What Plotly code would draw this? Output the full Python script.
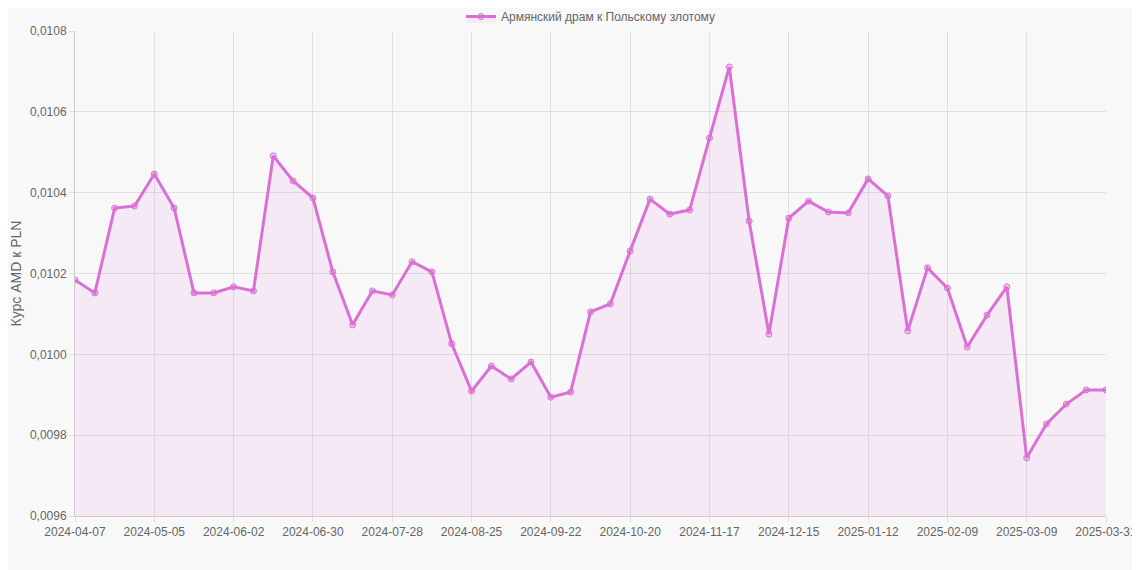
import plotly.graph_objects as go
import pandas as pd

dates = [d.strftime("%Y-%m-%d") for d in pd.date_range("2024-04-07", periods=52, freq="7D")] + ["2025-03-31"]
values = [0.010184,0.010152,0.010362,0.010367,0.010446,0.010362,0.010152,0.010152,0.010167,0.010157,
          0.010491,0.010429,0.010387,0.010204,0.010073,0.010157,0.010147,0.010229,0.010204,0.010026,
          0.009909,0.009971,0.009939,0.009981,0.009894,0.009907,0.010105,0.010125,0.010256,0.010384,
          0.010347,0.010357,0.010535,0.010711,0.010330,0.010050,0.010337,0.010379,0.010352,0.010350,
          0.010434,0.010392,0.010058,0.010214,0.010164,0.010018,0.010097,0.010167,0.009744,0.009828,
          0.009877,0.009912,0.009912]
tick_labels = dates[0:52:4] + [dates[-1]]
series_name = "Армянский драм к Польскому злотому"

fig = go.Figure()
fig.add_trace(go.Scatter(
    x=dates, y=values, name=series_name, mode="lines+markers",
    line=dict(color="#da70d6", width=3),
    marker=dict(size=6, color="rgba(218,112,214,0.3)", line=dict(color="#da70d6", width=1)),
    fill="tozeroy", fillcolor="rgba(218,112,214,0.1)",
))
fig.update_layout(
    width=1140, height=570, paper_bgcolor="#f8f8f8", plot_bgcolor="#f8f8f8",
    margin=dict(l=67, r=42, t=23, b=62, autoexpand=False),
    font=dict(family="Liberation Sans, Arial", size=12, color="#666"),
    separators=", ",
    showlegend=True,
    legend=dict(orientation="h", x=0.5, xanchor="center", y=1.0, yanchor="bottom", font=dict(size=12)),
)
fig.update_xaxes(type="category", tickmode="array", tickvals=tick_labels, ticktext=tick_labels,
                 showgrid=True, gridcolor="#e0e0e0", linecolor="#ccc", showline=True, automargin=False,
                 tickangle=0, range=[0, len(dates) - 1], ticks="outside", tickcolor="#e0e0e0")
fig.update_yaxes(range=[0.0096, 0.0108], dtick=0.0002, tickformat=".4f", automargin=False,
                 showgrid=True, gridcolor="#e0e0e0", linecolor="#ccc", showline=True,
                 title=dict(text="Курс AMD к PLN", standoff=5), ticks="outside", tickcolor="#e0e0e0", zeroline=False)
fig.write_html("out.html")
